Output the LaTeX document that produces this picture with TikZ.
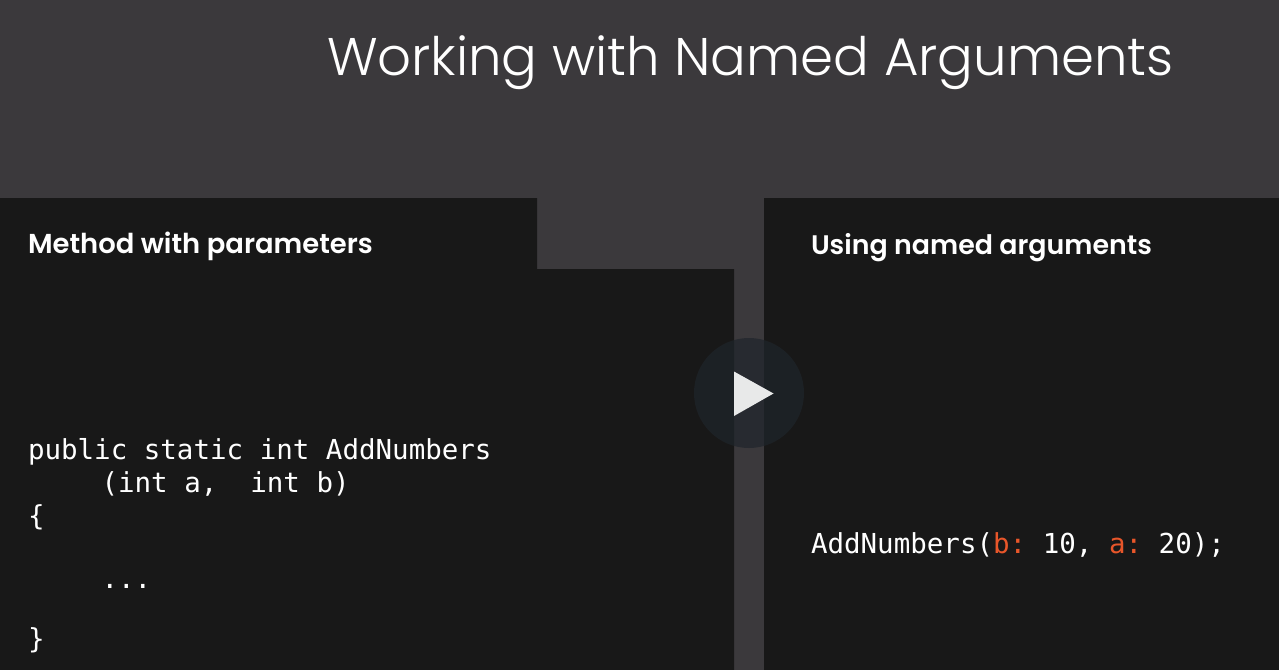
\documentclass[tikz,border=0pt]{standalone}
\usepackage{fontspec}
\usepackage{xcolor}
\newfontfamily\titlefont{Poppins Light}
\newfontfamily\headfont{Poppins SemiBold}
\newfontfamily\codefont{DejaVu Sans Mono}
\definecolor{bgc}{HTML}{3B393C}
\definecolor{panelc}{HTML}{181818}
\definecolor{circc}{HTML}{1F252B}
\definecolor{triac}{HTML}{E8E9E9}
\definecolor{accentc}{HTML}{E8562A}
\frenchspacing
\tikzset{
  txt/.style={inner sep=0pt,outer sep=0pt,anchor=base west,text=white},
  titletxt/.style={txt,font=\titlefont\fontsize{53}{60}\selectfont},
  headtxt/.style={txt,font=\headfont\fontsize{27}{32}\selectfont},
  codetxt/.style={txt,font=\codefont\fontsize{27.5}{33}\selectfont},
  panel/.style={fill=panelc,draw=none}
}
\begin{document}
\begin{tikzpicture}[x=1pt,y=-1pt]
\useasboundingbox (0,0) rectangle (1279,669);
\fill[bgc] (-5,-5) rectangle (1285,675);
\fill[panel] (0,198) -- (537,198) -- (537,269) -- (734,269) -- (734,675) -- (-5,675) -- (-5,198) -- cycle;
\fill[panel] (764,198) rectangle (1285,675);
\node[titletxt] (title) at (327,75) {Working with Named Arguments};
\node[headtxt,font=\headfont\fontsize{27.4}{32}\selectfont] (lefthead) at (28,253) {Method with parameters};
\node[headtxt,font=\headfont\fontsize{26.85}{32}\selectfont] (righthead) at (811,254) {Using named arguments};
\node[codetxt] (l1) at (28,459) {public static int AddNumbers};
\node[codetxt] (l2) at (101.5,492) {(int a,\hspace{33pt}int b)};
\node[codetxt] (l3) at (28,525) {\{};
\node[codetxt] (l4) at (101.5,588) {...};
\node[codetxt] (l5) at (28,648) {\}};
\node[codetxt] (call) at (811,553) {AddNumbers(\textcolor{accentc}{b:} 10, \textcolor{accentc}{a:} 20);};
\fill[circc,opacity=.7] (749,393) circle (55);
\fill[triac] (734,371.5) -- (773.5,393.5) -- (734,416) -- cycle;
\end{tikzpicture}
\end{document}
